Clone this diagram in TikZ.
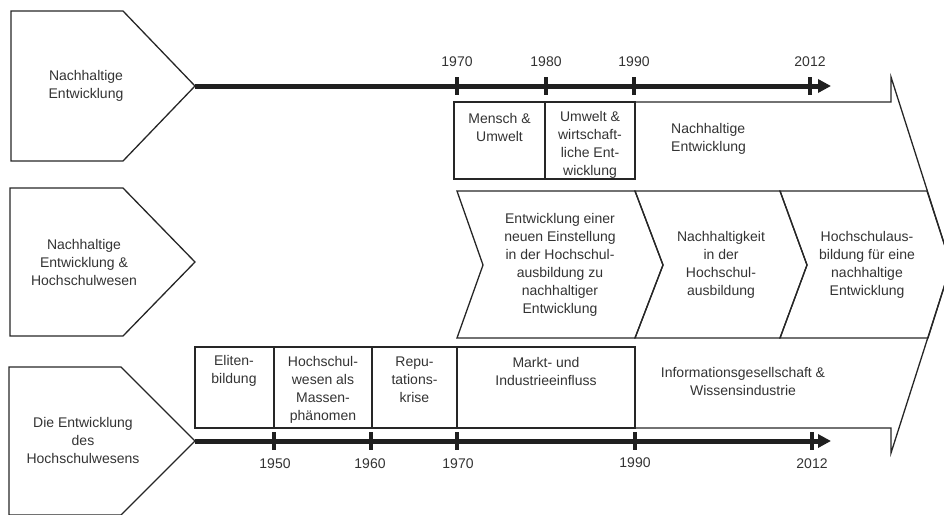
\documentclass[tikz,border=0pt]{standalone}
\usepackage{fontspec}
\setmainfont{Liberation Sans}
\usetikzlibrary{arrows.meta}
\tikzstyle{labelText}=[font = \fontsize{14}{18}\selectfont, align = center, text = black!80, inner sep = 0pt]
\tikzstyle{outline}=[draw = black!85, line width = 1.3pt]
\tikzstyle{axis}=[draw = black!88, line width = 5pt, -{Triangle[length = 13pt, width = 13pt]}]
\tikzstyle{tickMark}=[shape = rectangle, fill = black!88, minimum width = 4pt, minimum height = 18pt, inner sep = 0pt]
\tikzstyle{yearText}=[font = \fontsize{14}{18}\selectfont, text = black!80, inner sep = 0pt]

\begin{document}
\begin{tikzpicture}[x = 1pt, y = -1pt]
\useasboundingbox (0,0) rectangle (944,514);
\draw[outline] (11,11) -- (123,11) -- (195,86) -- (123,161) -- (11,161) -- cycle;
\draw[outline] (10,188) -- (123,188) -- (195,262) -- (123,336) -- (10,336) -- cycle;
\draw[outline] (9,367) -- (121,367) -- (195,441) -- (121,515) -- (9,515) -- cycle;
\node[labelText] (p0) at (86,86) {Nachhaltige\\Entwicklung};
\node[labelText] (p1) at (84,262) {Nachhaltige\\Entwicklung \&\\Hochschulwesen};
\node[labelText] (p2) at (83,440) {Die Entwicklung\\des\\Hochschulwesens};
\draw[outline] (454,102) rectangle (545,179);
\draw[outline] (545,102) rectangle (635,179);
\draw[outline] (635,102) -- (891,102) -- (891,77) -- (951,265) -- (891,453) -- (891,428) -- (635,428);
\draw[outline] (457,191) -- (635,191) -- (663,265) -- (635,338) -- (457,338) -- (483,265) -- cycle;
\draw[outline] (635,191) -- (780,191) -- (807,265) -- (780,338) -- (635,338) -- (663,265) -- cycle;
\draw[outline] (780,191) -- (927,191) -- (951,265) -- (928,338) -- (780,338) -- (807,265) -- cycle;
\draw[outline] (195,347) rectangle (274,428);
\draw[outline] (274,347) rectangle (372,428);
\draw[outline] (372,347) rectangle (457,428);
\draw[outline] (457,347) rectangle (635,428);
\node[labelText] (b0) at (499.5,127) {Mensch \&\\Umwelt};
\node[labelText] (b1) at (590,145) {Umwelt \&\\wirtschaft-\\liche Ent-\\wicklung};
\node[labelText, align = left, anchor = west] (b2) at (671,139) {Nachhaltige\\Entwicklung};
\node[labelText] (c0) at (560,265) {Entwicklung einer\\neuen Einstellung\\in der Hochschul-\\ausbildung zu\\nachhaltiger\\Entwicklung};
\node[labelText] (c1) at (721,265) {Nachhaltigkeit\\in der\\Hochschul-\\ausbildung};
\node[labelText] (c2) at (867,265) {Hochschulaus-\\bildung f\"ur eine\\nachhaltige\\Entwicklung};
\node[labelText] (d0) at (234,371) {Eliten-\\bildung};
\node[labelText] (d1) at (323,390) {Hochschul-\\wesen als\\Massen-\\ph\"anomen};
\node[labelText] (d2) at (414.5,380) {Repu-\\tations-\\krise};
\node[labelText] (d3) at (546,371) {Markt- und\\Industrieeinfluss};
\node[labelText] (d4) at (743,381) {Informationsgesellschaft \&\\Wissensindustrie};
\coordinate (a0) at (195,86);
\coordinate (a1) at (831,86);
\coordinate (a2) at (195,441);
\coordinate (a3) at (831,441);
\draw[axis] (a0) -- (a1);
\draw[axis] (a2) -- (a3);
\node[tickMark] (k0) at (457,86) {};
\node[tickMark] (k1) at (546,86) {};
\node[tickMark] (k2) at (634,86) {};
\node[tickMark] (k3) at (810,86) {};
\node[tickMark] (k4) at (274,441) {};
\node[tickMark] (k5) at (371,441) {};
\node[tickMark] (k6) at (457,441) {};
\node[tickMark] (k7) at (635,441) {};
\node[tickMark] (k8) at (812,441) {};
\node[yearText] (y0) at (457,62) {1970};
\node[yearText] (y1) at (546,62) {1980};
\node[yearText] (y2) at (634,62) {1990};
\node[yearText] (y3) at (810,62) {2012};
\node[yearText] (y4) at (275,464) {1950};
\node[yearText] (y5) at (370,464) {1960};
\node[yearText] (y6) at (458,464) {1970};
\node[yearText] (y7) at (635,463) {1990};
\node[yearText] (y8) at (812,464) {2012};
\end{tikzpicture}
\end{document}
